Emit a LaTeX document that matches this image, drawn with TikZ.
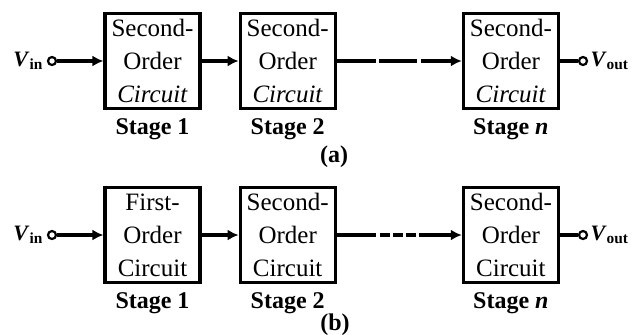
\documentclass[tikz,border=0pt]{standalone}
\usepackage{fontspec}
\setmainfont{Liberation Serif}
\usetikzlibrary{arrows.meta, positioning}

\begin{document}
\begin{tikzpicture}[
    node distance=18.5pt,
    stagebox/.style={rectangle, draw, line width=1.6pt, minimum width=47.5pt, minimum height=47.5pt, inner sep=0pt, align=center, font=\fontsize{12.5}{16.5}\selectfont},
    stagelabel/.style={font=\fontsize{12}{14}\selectfont\bfseries, inner sep=1pt},
    term/.style={circle, draw, line width=1.1pt, inner sep=0pt, minimum size=4pt, fill=white},
    vlabel/.style={font=\fontsize{11}{13}\selectfont\bfseries, inner sep=0.5pt},
    link/.style={line width=1.6pt, -{Latex[length=5.5pt, width=5.5pt]}},
    caption/.style={font=\fontsize{12}{14}\selectfont\bfseries}
]
    \useasboundingbox (0,0) rectangle (317.5pt,-167pt);

    % (a) all stages second order
    \node[stagebox] (a1) at (76.25pt,-30.5pt) {Second-\\Order\\\textit{Circuit}};
    \node[stagebox, right=of a1] (a2) {Second-\\Order\\\textit{Circuit}};
    \node[stagebox, right=62.5pt of a2] (an) {Second-\\Order\\\textit{Circuit}};
    \node[stagelabel, below=3pt of a1] (sa1) {Stage 1};
    \node[stagelabel, below=3pt of a2] (sa2) {Stage 2};
    \node[stagelabel, below=3pt of an] (san) {Stage \textit{n}};
    \node[term] (ina) at (26pt,-30.5pt) {};
    \node[vlabel, left=1pt of ina] (vina) {\textit{V}\textsubscript{in}};
    \node[term] (outa) at (291.5pt,-30.5pt) {};
    \node[vlabel, right=0.5pt of outa] (vouta) {\textit{V}\textsubscript{out}};
    \node[caption] (capa) at (167pt,-78.5pt) {(a)};

    \draw[link] (ina) -- (a1);
    \draw[link] (a1) -- (a2);
    \draw[link, dash pattern=on 19.5pt off 1.5pt on 19pt off 2pt on 40pt] (a2) -- (an);
    \draw[line width=1.6pt] (an) -- (outa);

    % (b) first stage first order
    \node[stagebox] (b1) at (76.25pt,-117.5pt) {First-\\Order\\Circuit};
    \node[stagebox, right=of b1] (b2) {Second-\\Order\\Circuit};
    \node[stagebox, right=62.5pt of b2] (bn) {Second-\\Order\\Circuit};
    \node[stagelabel, below=3pt of b1] (sb1) {Stage 1};
    \node[stagelabel, below=3pt of b2] (sb2) {Stage 2};
    \node[stagelabel, below=3pt of bn] (sbn) {Stage \textit{n}};
    \node[term] (inb) at (26pt,-117.5pt) {};
    \node[vlabel, left=1pt of inb] (vinb) {\textit{V}\textsubscript{in}};
    \node[term] (outb) at (291.5pt,-117.5pt) {};
    \node[vlabel, right=0.5pt of outb] (voutb) {\textit{V}\textsubscript{out}};
    \node[caption] (capb) at (167.5pt,-162.5pt) {(b)};

    \draw[link] (inb) -- (b1);
    \draw[link] (b1) -- (b2);
    \draw[link, dash pattern=on 19.5pt off 2pt on 5pt off 1.5pt on 5pt off 1.5pt on 5pt off 1.5pt on 40pt] (b2) -- (bn);
    \draw[line width=1.6pt] (bn) -- (outb);
\end{tikzpicture}
\end{document}
